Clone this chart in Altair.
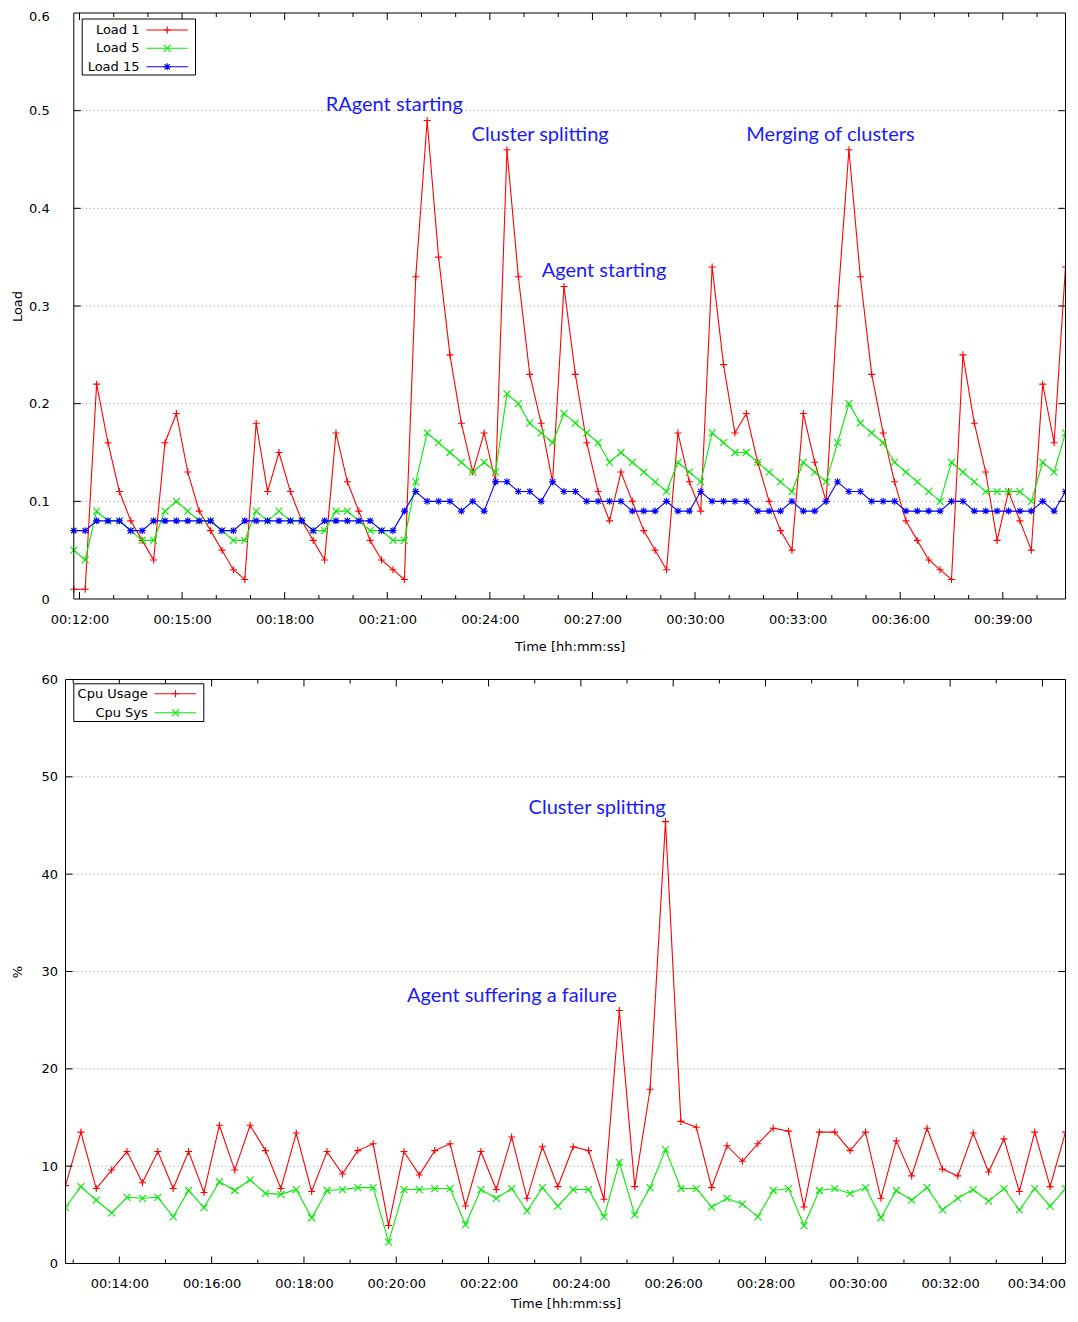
import altair as alt
import pandas as pd

# ---------------- data ----------------
STEP_S = 20
TOP_FIRST = "00:11:50"
TOP_X_DOMAIN = ["00:11:50", "00:40:50"]
BOTTOM_FIRST = "00:12:50"
BOTTOM_X_DOMAIN = ["00:12:50", "00:34:30"]

LOAD1 = [0.01, 0.01, 0.22, 0.16, 0.11, 0.08, 0.06, 0.04, 0.16, 0.19,
         0.13, 0.09, 0.07, 0.05, 0.03, 0.02, 0.18, 0.11, 0.15, 0.11,
         0.08, 0.06, 0.04, 0.17, 0.12, 0.09, 0.06, 0.04, 0.03, 0.02,
         0.33, 0.49, 0.35, 0.25, 0.18, 0.13, 0.17, 0.12, 0.46, 0.33,
         0.23, 0.18, 0.12, 0.32, 0.23, 0.16, 0.11, 0.08, 0.13, 0.10,
         0.07, 0.05, 0.03, 0.17, 0.12, 0.09, 0.34, 0.24, 0.17, 0.19,
         0.14, 0.10, 0.07, 0.05, 0.19, 0.14, 0.10, 0.30, 0.46, 0.33,
         0.23, 0.17, 0.12, 0.08, 0.06, 0.04, 0.03, 0.02, 0.25, 0.18,
         0.13, 0.06, 0.11, 0.08, 0.05, 0.22, 0.16, 0.34]
LOAD5 = [0.05, 0.04, 0.09, 0.08, 0.08, 0.07, 0.06, 0.06, 0.09, 0.10,
         0.09, 0.08, 0.08, 0.07, 0.06, 0.06, 0.09, 0.08, 0.09, 0.08,
         0.08, 0.07, 0.07, 0.09, 0.09, 0.08, 0.07, 0.07, 0.06, 0.06,
         0.12, 0.17, 0.16, 0.15, 0.14, 0.13, 0.14, 0.13, 0.21, 0.20,
         0.18, 0.17, 0.16, 0.19, 0.18, 0.17, 0.16, 0.14, 0.15, 0.14,
         0.13, 0.12, 0.11, 0.14, 0.13, 0.12, 0.17, 0.16, 0.15, 0.15,
         0.14, 0.13, 0.12, 0.11, 0.14, 0.13, 0.12, 0.16, 0.20, 0.18,
         0.17, 0.16, 0.14, 0.13, 0.12, 0.11, 0.10, 0.14, 0.13, 0.12,
         0.11, 0.11, 0.11, 0.11, 0.10, 0.14, 0.13, 0.17]
LOAD15 = [0.07, 0.07, 0.08, 0.08, 0.08, 0.07, 0.07, 0.08, 0.08, 0.08,
          0.08, 0.08, 0.08, 0.07, 0.07, 0.08, 0.08, 0.08, 0.08, 0.08,
          0.08, 0.07, 0.08, 0.08, 0.08, 0.08, 0.08, 0.07, 0.07, 0.09,
          0.11, 0.10, 0.10, 0.10, 0.09, 0.10, 0.09, 0.12, 0.12, 0.11,
          0.11, 0.10, 0.12, 0.11, 0.11, 0.10, 0.10, 0.10, 0.10, 0.09,
          0.09, 0.09, 0.10, 0.09, 0.09, 0.11, 0.10, 0.10, 0.10, 0.10,
          0.09, 0.09, 0.09, 0.10, 0.09, 0.09, 0.10, 0.12, 0.11, 0.11,
          0.10, 0.10, 0.10, 0.09, 0.09, 0.09, 0.09, 0.10, 0.10, 0.09,
          0.09, 0.09, 0.09, 0.09, 0.09, 0.10, 0.09, 0.11]

CPU_USAGE = [8.0, 13.5, 7.7, 9.6, 11.5, 8.3, 11.5, 7.7, 11.5, 7.3,
             14.2, 9.6, 14.2, 11.6, 7.7, 13.4, 7.4, 11.5, 9.2, 11.6,
             12.3, 3.9, 11.5, 9.1, 11.6, 12.3, 5.9, 11.5, 7.6, 13.0,
             6.7, 12.0, 7.9, 12.0, 11.6, 6.6, 26.0, 7.9, 17.9, 45.4,
             14.6, 14.0, 7.8, 12.1, 10.5, 12.3, 13.9, 13.6, 5.8, 13.5,
             13.5, 11.6, 13.5, 6.7, 12.6, 9.0, 13.9, 9.7, 9.0, 13.4,
             9.4, 12.8, 7.4, 13.5, 7.9, 13.5]
CPU_SYS = [5.75, 7.9, 6.5, 5.2, 6.8, 6.7, 6.8, 4.8, 7.5, 5.75,
           8.4, 7.5, 8.6, 7.2, 7.1, 7.6, 4.7, 7.5, 7.6, 7.8,
           7.8, 2.2, 7.6, 7.6, 7.7, 7.7, 4.0, 7.6, 6.7, 7.7,
           5.4, 7.8, 5.9, 7.6, 7.6, 4.8, 10.4, 5.0, 7.8, 11.7,
           7.7, 7.7, 5.8, 6.7, 6.1, 4.8, 7.5, 7.7, 3.9, 7.5,
           7.7, 7.2, 7.8, 4.7, 7.5, 6.5, 7.8, 5.5, 6.7, 7.6,
           6.4, 7.7, 5.5, 7.7, 5.9, 7.7]

TOP_X_TICKS = ["00:12:00", "00:15:00", "00:18:00", "00:21:00", "00:24:00",
               "00:27:00", "00:30:00", "00:33:00", "00:36:00", "00:39:00"]
TOP_Y_TICKS = [0, 0.1, 0.2, 0.3, 0.4, 0.5, 0.6]
BOTTOM_X_TICKS = ["00:14:00", "00:16:00", "00:18:00", "00:20:00", "00:22:00",
                  "00:24:00", "00:26:00", "00:28:00", "00:30:00", "00:32:00",
                  "00:34:00"]
BOTTOM_Y_TICKS = [0, 10, 20, 30, 40, 50, 60]

TOP_SERIES = ["Load 1", "Load 5", "Load 15"]
BOTTOM_SERIES = ["Cpu Usage", "Cpu Sys"]

TOP_NOTES = ["RAgent starting", "Cluster splitting", "Agent starting", "Merging of clusters"]
TOP_NOTE_T = ["00:19:12", "00:23:28", "00:25:31", "00:31:30"]
TOP_NOTE_V = [0.500, 0.469, 0.330, 0.469]
BOTTOM_NOTES = ["Cluster splitting", "Agent suffering a failure"]
BOTTOM_NOTE_T = ["00:22:52", "00:20:14"]
BOTTOM_NOTE_V = [46.2, 26.9]

# ---------------- styling ----------------
RED, GREEN, BLUE = "#ff0000", "#00ee00", "#0000ff"
NOTE_BLUE = "#1a1aff"
PLUS = "M-1,0L1,0M0,-1L0,1"
CROSS = "M-1,-1L1,1M-1,1L1,-1"
STAR = "M-1,0L1,0M0,-1L0,1M-0.75,-0.75L0.75,0.75M-0.75,0.75L0.75,-0.75"
FONT = "DejaVu Sans"
LABEL_EXPR = "utcFormat(datum.value * 1000, '%H:%M:%S')"
GRID_COLOR = "#8c8c8c"


def sec(hms):
    h, m, s = (int(p) for p in hms.split(":"))
    return h * 3600 + m * 60 + s


def series_df(values, first):
    t0 = sec(first)
    return pd.DataFrame({"t": [t0 + STEP_S * i for i in range(len(values))], "v": values})


def panel(series, notes, note_t, note_v, xdomain, xticks, minor_minutes, ydomain,
          yticks, ytitle, W, H, legend, frame_left, label_pad, title_pad,
          last_label_nudge, top_label_nudge):
    # frame_left: px from the view origin at which the plot frame (and x range) starts
    x0, x1 = sec(xdomain[0]), sec(xdomain[1])
    sec_per_px = (x1 - x0) / (W - frame_left)
    last_tick = sec(xticks[-1])
    x_enc = alt.X("t:Q",
                  scale=alt.Scale(domain=[x0, x1], range=[frame_left, W], nice=False, zero=False),
                  axis=alt.Axis(values=[sec(v) for v in xticks], labelExpr=LABEL_EXPR,
                                title="Time [hh:mm:ss]", labelPadding=label_pad,
                                titlePadding=title_pad,
                                labelOffset={"condition": {"test": f"datum.value >= {last_tick}",
                                                           "value": last_label_nudge},
                                             "value": 0}))
    y_enc = alt.Y("v:Q",
                  scale=alt.Scale(domain=ydomain, nice=False, zero=False),
                  axis=alt.Axis(values=yticks, format="~g", title=ytitle, grid=False,
                                titleX=-48, titleY=H / 2, titleBaseline="middle",
                                labelPadding=8.0 + frame_left,
                                labelOffset={"condition": {"test": f"datum.value >= {ydomain[1]}",
                                                           "value": top_label_nudge},
                                             "value": 0}))
    layers = []
    # horizontal grid lines and the frame, drawn through the scales
    ydf = pd.DataFrame({"v": yticks[1:-1]})
    layers.append(alt.Chart(ydf).mark_rule(color=GRID_COLOR, strokeWidth=1, strokeDash=[1, 3]).encode(
        x=alt.X(datum=x0), x2=alt.X2(datum=x1), y=alt.Y("v:Q")))
    first = True
    for df, color, shape in series:
        enc = dict(x=x_enc, y=y_enc) if first else dict(x=alt.X("t:Q"), y=alt.Y("v:Q"))
        first = False
        layers.append(alt.Chart(df).mark_line(color=color, strokeWidth=1.1, clip=True).encode(**enc))
        layers.append(alt.Chart(df).mark_point(shape=shape, size=49, filled=False, color=color,
                                               strokeWidth=1.1, opacity=1, clip=True).encode(
            x=alt.X("t:Q"), y=alt.Y("v:Q")))
    layers.append(alt.Chart(pd.DataFrame({"k": [0]})).mark_rect(
        fill="transparent", stroke="black", strokeWidth=1).encode(
        x=alt.X(datum=x0), x2=alt.X2(datum=x1),
        y=alt.Y(datum=ydomain[1]), y2=alt.Y2(datum=ydomain[0])))

    # inner tick marks (gnuplot style, on all four sides)
    major = pd.DataFrame({"t": [sec(v) for v in xticks]})
    major_set = set(sec(v) for v in xticks)
    minor = pd.DataFrame({"t": [m * 60 for m in minor_minutes if m * 60 not in major_set]})
    for df, ln in ((major, 7), (minor, 4)):
        layers.append(alt.Chart(df).mark_rule(color="black", strokeWidth=1).encode(
            x=alt.X("t:Q"), y=alt.value(H), y2=alt.value(H - ln)))
        layers.append(alt.Chart(df).mark_rule(color="black", strokeWidth=1).encode(
            x=alt.X("t:Q"), y=alt.value(0), y2=alt.value(ln)))
    tick_s = 7 * sec_per_px
    layers.append(alt.Chart(ydf).mark_rule(color="black", strokeWidth=1).encode(
        y=alt.Y("v:Q"), x=alt.X(datum=x0), x2=alt.X2(datum=x0 + tick_s)))
    layers.append(alt.Chart(ydf).mark_rule(color="black", strokeWidth=1).encode(
        y=alt.Y("v:Q"), x=alt.X(datum=x1), x2=alt.X2(datum=x1 - tick_s)))

    ndf = pd.DataFrame({"t": [sec(t) for t in note_t], "v": note_v, "label": notes})
    layers.append(alt.Chart(ndf).mark_text(align="left", baseline="alphabetic", font="Lato",
                                           fontSize=20, color=NOTE_BLUE).encode(
        x=alt.X("t:Q"), y=alt.Y("v:Q"), text="label:N"))

    # legend box (gnuplot style: label on the left, line sample with marker on the right)
    box, rows, rows_y, text_x, line_x, mark_x = legend
    layers.append(alt.Chart(pd.DataFrame({"k": [0]})).mark_rect(
        fill="white", stroke="black", strokeWidth=1).encode(
        x=alt.value(box[0]), x2=alt.value(box[1]), y=alt.value(box[2]), y2=alt.value(box[3])))
    for (name, color, shape), ry in zip(rows, rows_y):
        ldf = pd.DataFrame({"label": [name]})
        layers.append(alt.Chart(ldf).mark_text(align="right", baseline="middle", font=FONT,
                                               fontSize=13, color="black").encode(
            x=alt.value(text_x), y=alt.value(ry), text="label:N"))
        layers.append(alt.Chart(ldf).mark_rule(color=color, strokeWidth=1.1).encode(
            x=alt.value(line_x[0]), x2=alt.value(line_x[1]), y=alt.value(ry)))
        layers.append(alt.Chart(ldf).mark_point(shape=shape, size=49, filled=False, color=color,
                                                strokeWidth=1.1, opacity=1).encode(
            x=alt.value(mark_x), y=alt.value(ry)))
    return alt.layer(*layers).properties(
        width=W, height=H, view=alt.ViewBackground(stroke="transparent"))


top_series = [(series_df(LOAD1, TOP_FIRST), RED, PLUS),
              (series_df(LOAD5, TOP_FIRST), GREEN, CROSS),
              (series_df(LOAD15, TOP_FIRST), BLUE, STAR)]
bottom_series = [(series_df(CPU_USAGE, BOTTOM_FIRST), RED, PLUS),
                 (series_df(CPU_SYS, BOTTOM_FIRST), GREEN, CROSS)]

PANEL_W = 1000
TOP_H, BOT_H = 586, 584
TOP_FRAME_LEFT = 8.3

top = panel(top_series, TOP_NOTES, TOP_NOTE_T, TOP_NOTE_V, TOP_X_DOMAIN, TOP_X_TICKS,
            range(12, 41), [0, 0.6], TOP_Y_TICKS, "Load", PANEL_W, TOP_H,
            ((16.7, 130, 6, 62),
             [(TOP_SERIES[0], RED, PLUS), (TOP_SERIES[1], GREEN, CROSS), (TOP_SERIES[2], BLUE, STAR)],
             [17, 35.3, 53.7], 74, (81, 122.3), 101.7),
            TOP_FRAME_LEFT, 14.5, 14, 0, 3.5)
bottom = panel(bottom_series, BOTTOM_NOTES, BOTTOM_NOTE_T, BOTTOM_NOTE_V, BOTTOM_X_DOMAIN,
               BOTTOM_X_TICKS, range(13, 35), [0, 60], BOTTOM_Y_TICKS, "%", PANEL_W, BOT_H,
               ((8.3, 138.3, 4.3, 42),
                [(BOTTOM_SERIES[0], RED, PLUS), (BOTTOM_SERIES[1], GREEN, CROSS)],
                [14.3, 33.3], 82.3, (89, 130.7), 110),
               0, 14, 7, -6, 0)

chart = alt.concat(top, bottom, columns=1, spacing=18.5,
                   padding={"left": 2.5, "top": 2, "right": 0, "bottom": 0}).configure(
    font=FONT
).configure_axis(
    labelFont=FONT, labelFontSize=13, labelColor="#000",
    titleFont=FONT, titleFontSize=13, titleFontWeight="normal", titleColor="#000",
    gridColor=GRID_COLOR, gridDash=[1, 3], gridWidth=1, gridOpacity=1,
    ticks=False, domain=False, labelFlush=False, labelOverlap=False
)

chart.save("out.html", embed_options={"renderer": "svg", "actions": False})
